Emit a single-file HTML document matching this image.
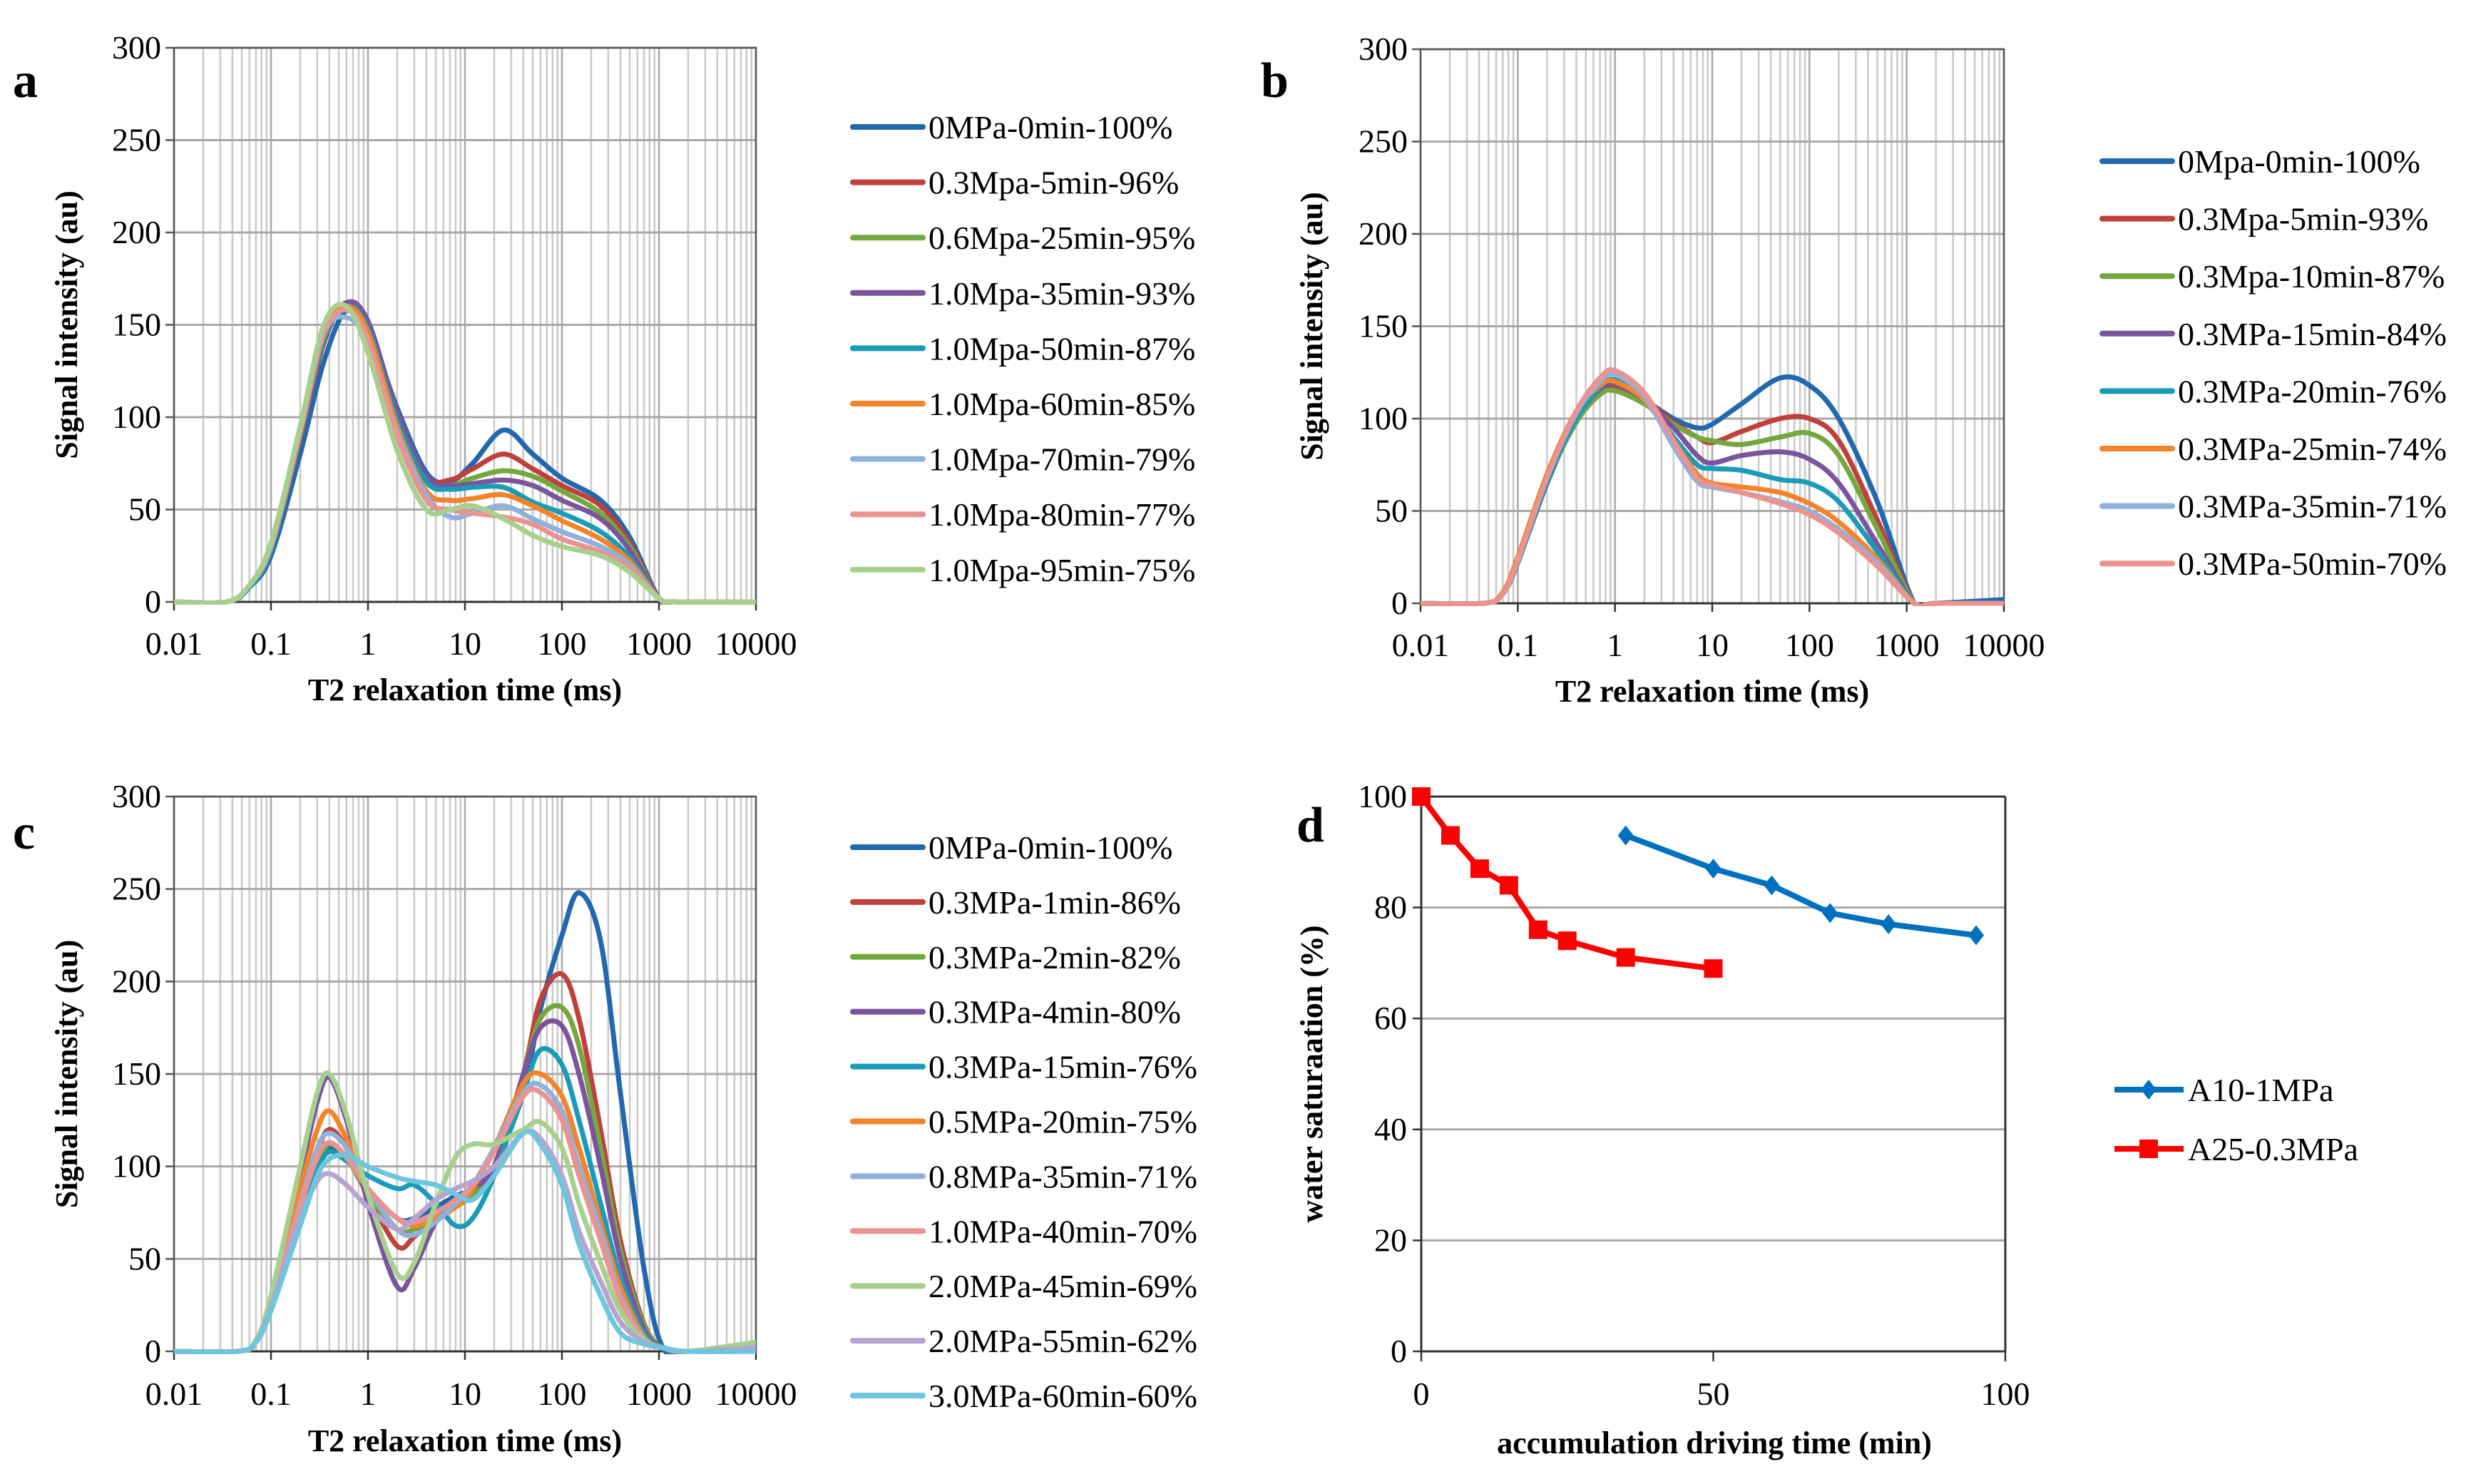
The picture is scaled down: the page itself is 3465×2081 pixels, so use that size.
<!DOCTYPE html>
<html><head><meta charset="utf-8"><style>
html,body{margin:0;padding:0;background:#fff;}
svg{display:block;font-family:"Liberation Serif",serif;}
</style></head><body>
<svg id="fig" width="3465" height="2081" viewBox="0 0 3465 2081" xmlns="http://www.w3.org/2000/svg"></svg>
<script>
// ---------- DATA ----------
const aX = [0.01,0.035,0.06,0.1,0.2,0.35,0.6,1,2,4,7,12,25,50,100,250,500,1000,1500,10000];
const aLabels = ["0MPa-0min-100%","0.3Mpa-5min-96%","0.6Mpa-25min-95%","1.0Mpa-35min-93%","1.0Mpa-50min-87%","1.0Mpa-60min-85%","1.0Mpa-70min-79%","1.0Mpa-80min-77%","1.0Mpa-95min-75%"];
const aS0 = [0,0,8,25,80,130,158,148,105,70,65,75,93,80,67,55,35,2,0,0];
const aS1 = [0,0,8,28,88,140,162,150,100,68,66,72,80,72,63,52,32,2,0,0];
const aS2 = [0,0,8,28,90,142,162,148,98,66,63,67,71,68,60,48,30,2,0,0];
const aS3 = [0,0,8,28,90,142,162,152,103,68,63,64,66,63,55,45,28,2,0,0];
const aS4 = [0,0,8,28,90,142,160,148,98,65,61,62,62,54,48,38,24,2,0,0];
const aS5 = [0,0,9,30,92,145,160,146,95,60,55,56,58,52,44,34,22,2,0,0];
const aS6 = [0,0,9,30,92,145,154,140,92,58,46,48,52,45,38,30,20,2,0,0];
const aS7 = [0,0,9,30,92,145,158,142,90,55,50,48,46,42,34,27,18,2,0,0];
const aS8 = [0,0,9,32,95,150,160,135,82,50,50,52,45,36,30,25,16,2,0,0];

const bX = [0.01,0.045,0.07,0.1,0.2,0.4,0.7,1,2,4,7,10,20,50,100,200,500,1200,2000,10000];
const bLabels = ["0Mpa-0min-100%","0.3Mpa-5min-93%","0.3Mpa-10min-87%","0.3MPa-15min-84%","0.3MPa-20min-76%","0.3MPa-25min-74%","0.3MPa-35min-71%","0.3MPa-50min-70%"];
const bS0 = [0,0,5,22,65,100,116,118,110,100,95,97,108,122,118,100,55,0,0,2];
const bS1 = [0,0,5,22,66,100,115,117,110,98,90,87,93,100,100,88,45,0,0,0];
const bS2 = [0,0,5,22,66,98,113,115,108,97,90,88,86,90,92,80,40,0,0,0];
const bS3 = [0,0,5,22,66,100,116,119,110,95,80,76,80,82,78,65,32,0,0,0];
const bS4 = [0,0,5,22,66,100,117,121,110,90,75,73,72,67,65,55,28,0,0,0];
const bS5 = [0,0,6,25,70,104,118,120,110,88,70,65,63,60,54,44,24,0,0,0];
const bS6 = [0,0,5,23,68,103,120,124,112,85,66,63,60,55,50,40,22,0,0,0];
const bS7 = [0,0,5,23,68,104,122,126,114,88,68,64,60,54,48,38,20,0,0,0];

const cX = [0.01,0.045,0.07,0.1,0.2,0.3,0.4,0.6,1,2,3,5,8,12,20,40,60,100,150,250,400,700,1100,2000,10000];
const cLabels = ["0MPa-0min-100%","0.3MPa-1min-86%","0.3MPa-2min-82%","0.3MPa-4min-80%","0.3MPa-15min-76%","0.5MPa-20min-75%","0.8MPa-35min-71%","1.0MPa-40min-70%","2.0MPa-45min-69%","2.0MPa-55min-62%","3.0MPa-60min-60%"];
const cS0 = [0,0,5,25,75,100,110,105,88,72,72,78,84,88,100,140,185,225,248,222,140,45,2,0,2];
const cS1 = [0,0,5,25,78,108,120,110,85,57,62,72,80,85,100,150,190,204,180,120,60,15,2,0,2];
const cS2 = [0,0,5,25,76,102,112,105,85,66,66,72,78,85,100,150,180,186,165,110,55,14,2,0,2];
const cS3 = [0,0,5,28,95,135,148,125,80,35,45,70,80,88,100,150,175,176,150,100,50,12,2,0,2];
const cS4 = [0,0,5,24,72,98,108,103,95,88,90,80,68,72,95,140,163,155,125,80,40,10,2,0,2];
const cS5 = [0,0,5,27,88,120,130,115,88,72,68,72,78,88,110,145,150,138,110,70,35,8,2,0,2];
const cS6 = [0,0,5,25,80,110,118,110,88,66,63,70,80,90,110,140,144,130,100,65,30,7,2,0,2];
const cS7 = [0,0,5,25,78,105,113,105,88,72,70,75,82,90,108,138,140,125,95,60,28,6,2,0,2];
const cS8 = [0,0,6,30,100,140,150,128,85,42,48,80,105,112,112,120,124,110,80,48,22,6,2,0,5];
const cS9 = [0,0,5,24,72,92,96,90,78,66,72,82,88,92,100,118,115,95,65,38,16,5,2,0,2];
const cS10 = [0,0,5,22,68,95,104,106,100,94,92,90,85,82,95,118,112,90,58,30,10,4,2,0,0];

const logTicks = ["0.01","0.1","1","10","100","1000","10000"];
const yTicksT2 = [0,50,100,150,200,250,300];

const dXTicks = [0,50,100];
const dYTicks = [0,20,40,60,80,100];
const dA10x = [35,50,60,70,80,95];
const dA10y = [93,87,84,79,77,75];
const dA25x = [0,5,10,15,20,25,35,50];
const dA25y = [100,93,87,84,76,74,71,69];

// ---------- STYLE ----------
const colA = ["#2168AE","#C0403B","#74A83F","#7A559E","#1A9CB7","#F5832A","#8FB1DD","#EA9391","#A8D08D"];
const colC = ["#2168AE","#C0403B","#74A83F","#7A559E","#1A9CB7","#F5832A","#8FB1DD","#EA9391","#A8D08D","#B6A3CF","#6DC6DE"];

const NS="http://www.w3.org/2000/svg";
const svg=document.getElementById('fig');
function mk(tag,attrs,parent){const e=document.createElementNS(NS,tag);for(const k in attrs)e.setAttribute(k,attrs[k]);(parent||svg).appendChild(e);return e;}
function txt(s,attrs,parent){const e=mk('text',attrs,parent);e.textContent=s;return e;}

function spline(pts){
  let d="M"+pts[0][0].toFixed(1)+","+pts[0][1].toFixed(1);
  for(let i=0;i<pts.length-1;i++){
    const p0=pts[Math.max(0,i-1)],p1=pts[i],p2=pts[i+1],p3=pts[Math.min(pts.length-1,i+2)];
    const c1=[p1[0]+(p2[0]-p0[0])/6,p1[1]+(p2[1]-p0[1])/6];
    const c2=[p2[0]-(p3[0]-p1[0])/6,p2[1]-(p3[1]-p1[1])/6];
    d+=" C"+c1[0].toFixed(1)+","+c1[1].toFixed(1)+" "+c2[0].toFixed(1)+","+c2[1].toFixed(1)+" "+p2[0].toFixed(1)+","+p2[1].toFixed(1);
  }
  return d;
}

function logPanel(cfg){
  const g=mk('g',{});
  
  
  const L=cfg.L,R=cfg.R,T=cfg.T,B=cfg.B;
  const xs=v=>L+(Math.log10(v)+2)/6*(R-L);
  const ys=v=>B-v/300*(B-T);
  // minor grid
  for(let dcd=-2;dcd<4;dcd++){for(let m=2;m<=9;m++){const x=xs(m*Math.pow(10,dcd));
    const l=mk('line',{x1:x,x2:x,y1:T,y2:B,stroke:"#C9C9C9","stroke-width":2.5},g);
    }}
  for(let i=0;i<logTicks.length;i++){const x=xs(Math.pow(10,i-2));
    const l=mk('line',{x1:x,x2:x,y1:T,y2:B,stroke:"#A8A8A8","stroke-width":2.5},g);
    
    mk('line',{x1:x,x2:x,y1:B,y2:B+12,stroke:"#333","stroke-width":2.5},g);
    const t=txt(logTicks[i],{x:x,y:cfg.tickY,"font-size":46,"text-anchor":"middle",fill:"#000"},g);
    }
  for(const v of yTicksT2){const y=ys(v);
    const l=mk('line',{x1:L,x2:R,y1:y,y2:y,stroke:"#A8A8A8","stroke-width":3},g);
    
    mk('line',{x1:L-12,x2:L,y1:y,y2:y,stroke:"#555","stroke-width":2.5},g);
    const t=txt(String(v),{x:L-18,y:y+15,"font-size":46,"text-anchor":"end"},g);
    }
  mk('rect',{x:L,y:T,width:R-L,height:B-T,fill:"none",stroke:"#555","stroke-width":2.5},g);
  mk('line',{x1:L,x2:R,y1:B,y2:B,stroke:"#333","stroke-width":3},g);
  // series
  const clip="clip-"+cfg.name;
  const cp=mk('clipPath',{id:clip},g);mk('rect',{x:L,y:T,width:R-L,height:B-T+4},cp);
  cfg.series.forEach((s,i)=>{
    const pts=cfg.X.map((x,j)=>[xs(x),ys(s[j])]);
    const p=mk('path',{d:spline(pts),fill:"none",stroke:cfg.colors[i],"stroke-width":7,"stroke-linejoin":"round","stroke-linecap":"round","clip-path":"url(#"+clip+")"},g);
    
  });
  // legend
  cfg.labels.forEach((lab,i)=>{
    const y=cfg.legY+i*cfg.legStep;
    const lg=mk('g',{},g);
    
    mk('line',{x1:cfg.legX,x2:cfg.legX+98,y1:y,y2:y,stroke:cfg.colors[i],"stroke-width":8,"stroke-linecap":"round"},lg);
    txt(lab,{x:cfg.legX+106,y:y+16,"font-size":46},lg);
  });
  const xt=txt("T2 relaxation time (ms)",{x:(L+R)/2,y:cfg.xTitleY,"font-size":44,"font-weight":"bold","text-anchor":"middle"},g);
  
  const yc=(T+B)/2;
  const yt=txt("Signal intensity (au)",{x:cfg.yTitleX,y:yc,"font-size":44,"font-weight":"bold","text-anchor":"middle",transform:"rotate(-90 "+cfg.yTitleX+" "+yc+")"},g);
  
  const pl=txt(cfg.letter,{x:cfg.letX,y:cfg.letY,"font-size":70,"font-weight":"bold"},g);
  
}

logPanel({name:"panel-a",L:244,R:1060,T:67,B:844,X:aX,series:[aS0,aS1,aS2,aS3,aS4,aS5,aS6,aS7,aS8],colors:colA,labels:aLabels,
  legX:1196,legY:178,legStep:77.6,tickY:918,xTitleY:982,yTitleX:108,letter:"a",letX:18,letY:136});
logPanel({name:"panel-b",L:1992,R:2810,T:69,B:846,X:bX,series:[bS0,bS1,bS2,bS3,bS4,bS5,bS6,bS7],colors:colA,labels:bLabels,
  legX:2948,legY:226,legStep:80.6,tickY:920,xTitleY:984,yTitleX:1854,letter:"b",letX:1768,letY:136});
logPanel({name:"panel-c",L:244,R:1060,T:1117,B:1895,X:cX,series:[cS0,cS1,cS2,cS3,cS4,cS5,cS6,cS7,cS8,cS9,cS10],colors:colC,labels:cLabels,
  legX:1196,legY:1188,legStep:76.9,tickY:1970,xTitleY:2035,yTitleX:108,letter:"c",letX:18,letY:1190});

// panel d
(function(){
  const g=mk('g',{});
  
  const L=1993,R=2812,T=1117,B=1895;
  const xs=v=>L+v/100*(R-L), ys=v=>B-v/100*(B-T);
  for(const v of dYTicks){const y=ys(v);
    const l=mk('line',{x1:L,x2:R,y1:y,y2:y,stroke:v===0||v===100?"#333":"#A8A8A8","stroke-width":3},g);
    
    mk('line',{x1:L-12,x2:L,y1:y,y2:y,stroke:"#333","stroke-width":2.5},g);
    const t=txt(String(v),{x:L-20,y:y+15,"font-size":46,"text-anchor":"end"},g);
    }
  for(const v of dXTicks){const x=xs(v);
    mk('line',{x1:x,x2:x,y1:B,y2:B+14,stroke:"#333","stroke-width":2.5},g);
    const t=txt(String(v),{x:x,y:1970,"font-size":46,"text-anchor":"middle"},g);
    }
  mk('line',{x1:L,x2:L,y1:T,y2:B,stroke:"#333","stroke-width":3},g);
  mk('line',{x1:R,x2:R,y1:T,y2:B,stroke:"#333","stroke-width":3},g);
  const p1=mk('polyline',{points:dA10x.map((x,i)=>xs(x)+","+ys(dA10y[i])).join(" "),fill:"none",stroke:"#0070C0","stroke-width":8,"stroke-linejoin":"round"},g);
  
  dA10x.forEach((x,i)=>{const cx=xs(x),cy=ys(dA10y[i]);
    const m=mk('polygon',{points:`${cx},${cy-14} ${cx+11},${cy} ${cx},${cy+14} ${cx-11},${cy}`,fill:"#0070C0"},g);
    });
  const p2=mk('polyline',{points:dA25x.map((x,i)=>xs(x)+","+ys(dA25y[i])).join(" "),fill:"none",stroke:"#FF0000","stroke-width":8,"stroke-linejoin":"round"},g);
  
  dA25x.forEach((x,i)=>{const cx=xs(x),cy=ys(dA25y[i]);
    const m=mk('rect',{x:cx-13,y:cy-13,width:26,height:26,fill:"#FF0000"},g);
    });
  // legend
  const l1=mk('g',{},g);
  mk('line',{x1:2965,x2:3062,y1:1528,y2:1528,stroke:"#0070C0","stroke-width":8},l1);
  mk('polygon',{points:"3013,1514 3024,1528 3013,1542 3002,1528",fill:"#0070C0"},l1);
  txt("A10-1MPa",{x:3068,y:1544,"font-size":46},l1);
  const l2=mk('g',{},g);
  mk('line',{x1:2965,x2:3062,y1:1611,y2:1611,stroke:"#FF0000","stroke-width":8},l2);
  mk('rect',{x:3000,y:1598,width:26,height:26,fill:"#FF0000"},l2);
  txt("A25-0.3MPa",{x:3068,y:1627,"font-size":46},l2);
  const xt=txt("accumulation driving time (min)",{x:2404,y:2038,"font-size":44,"font-weight":"bold","text-anchor":"middle"},g);
  
  const yc=1506;
  const yt=txt("water saturaation (%)",{x:1854,y:yc,"font-size":44,"font-weight":"bold","text-anchor":"middle",transform:"rotate(-90 1854 "+yc+")"},g);
  
  const pl=txt("d",{x:1818,y:1180,"font-size":70,"font-weight":"bold"},g);
  
})();
</script>
</body></html>
